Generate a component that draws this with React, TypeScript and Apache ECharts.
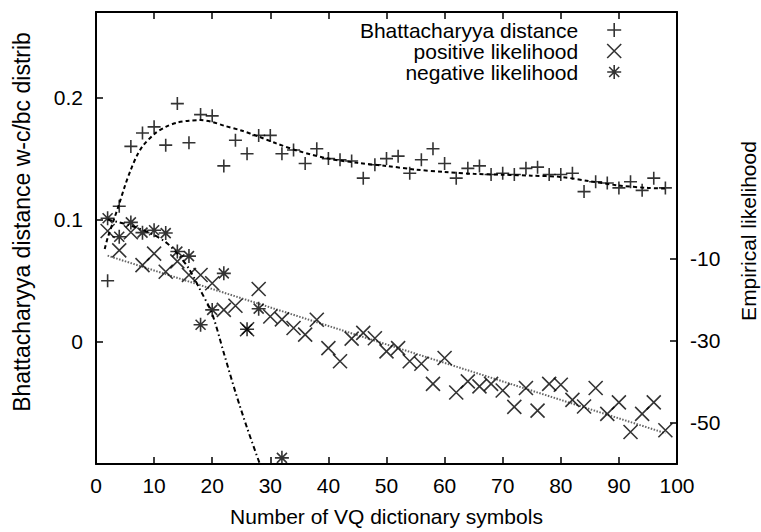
import React, { useEffect, useRef } from 'react';
import * as echarts from 'echarts';

const FONT = '"Liberation Sans", Arial, Helvetica, sans-serif';

// sample x positions (number of VQ dictionary symbols)
const X_VALUES = [2, 4, 6, 8, 10, 12, 14, 16, 18, 20, 22, 24, 26, 28, 30, 32, 34, 36, 38, 40, 42, 44, 46, 48, 50,
  52, 54, 56, 58, 60, 62, 64, 66, 68, 70, 72, 74, 76, 78, 80, 82, 84, 86, 88, 90, 92, 94, 96, 98];

// Bhattacharyya distance (left axis)
const BHATTA = [0.050, 0.111, 0.160, 0.171, 0.176, 0.161, 0.195, 0.163, 0.186, 0.185, 0.144, 0.165, 0.154, 0.169,
  0.169, 0.154, 0.157, 0.146, 0.158, 0.150, 0.149, 0.148, 0.134, 0.145, 0.150, 0.152, 0.138, 0.149, 0.158, 0.146,
  0.134, 0.142, 0.144, 0.137, 0.138, 0.137, 0.142, 0.143, 0.137, 0.137, 0.138, 0.123, 0.131, 0.130, 0.126, 0.131,
  0.124, 0.134, 0.126];

// positive likelihood (right axis)
const POS_LIK = [-3.3, -8.0, -3.6, -11.6, -8.8, -13.2, -10.7, -14.0, -14.0, -16.0, -22.5, -21.5, -27.2, -17.4,
  -24.1, -24.8, -26.9, -28.5, -24.9, -31.8, -35.0, -29.5, -28.1, -29.4, -32.6, -31.8, -35.0, -35.6, -40.5, -34.2,
  -42.6, -39.9, -41.1, -40.5, -42.1, -46.1, -41.5, -47.0, -40.5, -40.7, -44.4, -46.0, -41.5, -47.8, -45.0, -52.2,
  -47.8, -45.0, -51.8];

// negative likelihood (right axis), null = below the visible range
const NEG_X = [2, 4, 6, 8, 10, 12, 14, 16, 18, 20, 22, 24, 26, 28, 30, 32];
const NEG_LIK = [-0.2, -4.7, -1.2, -3.7, -3.1, -3.8, -8.3, -9.4, -26.1, -22.5, -13.6, null, -27.2, -22.2, null, -58.5];

// fitted curves
const BHATTA_FIT_X = [1.5, 2, 3, 4, 5, 6, 7, 8, 10, 12, 14, 16, 18, 20, 22, 25, 28, 31, 35, 40, 45, 50, 55, 60, 65,
  70, 75, 80, 85, 90, 95, 98];
const BHATTA_FIT_Y = [0.076, 0.085, 0.099, 0.113, 0.128, 0.141, 0.152, 0.160, 0.170, 0.176, 0.1795, 0.181, 0.1815,
  0.180, 0.177, 0.173, 0.168, 0.1625, 0.156, 0.150, 0.1465, 0.144, 0.141, 0.139, 0.1375, 0.1368, 0.136, 0.135,
  0.1315, 0.128, 0.126, 0.1255];
const POS_FIT_X = [2, 98];
const POS_FIT_Y = [-9.3, -52.5];
const NEG_FIT_X = [2, 4, 6, 8, 10, 12, 14, 16, 18, 20, 22, 24, 26, 28.2];
const NEG_FIT_Y = [-0.5, -1.2, -2.0, -3.0, -4.3, -6.0, -8.8, -12.5, -17.8, -23.5, -33.0, -42.5, -51.2, -60];

// axis ticks
const LEFT_TICKS = [0, 0.1, 0.2];
const RIGHT_TICKS = [-50, -30, -10];

const SERIES_NAMES = ['Bhattacharyya distance', 'positive likelihood', 'negative likelihood'];

const PLUS = 'path://M7,0L7,14M0,7L14,7';
const CROSS = 'path://M0,0L14,14M0,14L14,0';
const STAR = 'path://M7,0L7,14M0,7L14,7M2,2L12,12M2,12L12,2';

const pairs = (xs: number[], ys: (number | null)[]) =>
  xs.map((x, i) => [x, ys[i]]).filter((p) => p[1] !== null && p[1] !== undefined);

const axisLine = { onZero: false, lineStyle: { color: '#000', width: 2 } };
const tickStyle = { color: '#000', width: 1.5 };
const textBase = { color: '#000', fontSize: 21, fontFamily: FONT };

export default function App() {
  const ref = useRef<HTMLDivElement>(null);

  useEffect(() => {
    if (!ref.current) return;
    const chart = echarts.init(ref.current, null, { renderer: 'svg' });
    const symbolStyle = { color: 'rgba(0,0,0,0)', borderColor: '#000', borderWidth: 1.6 };
    chart.setOption({
      animation: false,
      backgroundColor: '#fff',
      grid: { left: 96, right: 84, top: 12, bottom: 68, containLabel: false, outerBoundsMode: 'none' },
      legend: {
        orient: 'vertical',
        align: 'right',
        right: 134,
        top: 14.5,
        itemWidth: 62,
        itemHeight: 14,
        itemGap: 0,
        selectedMode: false,
        textStyle: { ...textBase, lineHeight: 21 },
        itemStyle: symbolStyle,
        data: [
          { name: SERIES_NAMES[0], icon: PLUS },
          { name: SERIES_NAMES[1], icon: CROSS },
          { name: SERIES_NAMES[2], icon: STAR },
        ],
      },
      xAxis: [
        {
          type: 'value', min: 0, max: 100, interval: 10, position: 'bottom',
          axisLine,
          axisTick: { inside: true, length: 7, lineStyle: tickStyle },
          axisLabel: { ...textBase, margin: 11 },
          splitLine: { show: false },
          name: 'Number of VQ dictionary symbols',
          nameLocation: 'middle',
          nameGap: 42,
          nameTextStyle: textBase,
        },
        {
          type: 'value', min: 0, max: 100, interval: 10, position: 'top',
          axisLine,
          axisTick: { inside: true, length: 7, lineStyle: tickStyle },
          axisLabel: { show: false },
          splitLine: { show: false },
        },
      ],
      yAxis: [
        {
          type: 'value', min: -0.1, max: 0.27, position: 'left',
          axisLine,
          axisTick: { inside: true, length: 7, lineStyle: tickStyle, customValues: LEFT_TICKS },
          axisLabel: { ...textBase, margin: 13, customValues: LEFT_TICKS },
          splitLine: { show: false },
          name: 'Bhattacharyya distance w-c/bc distrib',
          nameLocation: 'middle',
          nameGap: 63,
          nameRotate: 90,
          nameTextStyle: { ...textBase, fontSize: 23, padding: [0, 0, 0, 32] },
        },
        {
          type: 'value', min: -60, max: 50, position: 'right',
          axisLine,
          axisTick: { inside: true, length: 7, lineStyle: tickStyle, customValues: RIGHT_TICKS },
          axisLabel: { ...textBase, margin: 13, customValues: RIGHT_TICKS },
          splitLine: { show: false },
          name: 'Empirical likelihood',
          nameLocation: 'middle',
          nameGap: 61,
          nameRotate: 90,
          nameTextStyle: { ...textBase, padding: [0, 0, 0, 14] },
        },
      ],
      series: [
        {
          name: SERIES_NAMES[0], type: 'scatter', xAxisIndex: 0, yAxisIndex: 0,
          symbol: PLUS, symbolSize: 13, itemStyle: symbolStyle,
          data: pairs(X_VALUES, BHATTA), z: 3,
        },
        {
          name: SERIES_NAMES[1], type: 'scatter', xAxisIndex: 0, yAxisIndex: 1,
          symbol: CROSS, symbolSize: 14, itemStyle: symbolStyle,
          data: pairs(X_VALUES, POS_LIK), z: 3,
        },
        {
          name: SERIES_NAMES[2], type: 'scatter', xAxisIndex: 0, yAxisIndex: 1,
          symbol: STAR, symbolSize: 14, itemStyle: symbolStyle,
          data: pairs(NEG_X, NEG_LIK), z: 3,
        },
        {
          type: 'line', xAxisIndex: 0, yAxisIndex: 0, silent: true, symbol: 'none', smooth: 0.3,
          lineStyle: { color: '#000', width: 2, type: [4, 3] },
          data: pairs(BHATTA_FIT_X, BHATTA_FIT_Y), z: 2,
        },
        {
          type: 'line', xAxisIndex: 0, yAxisIndex: 1, silent: true, symbol: 'none',
          lineStyle: { color: '#666', width: 2, type: [1.5, 1.5] },
          data: pairs(POS_FIT_X, POS_FIT_Y), z: 2,
        },
        {
          type: 'line', xAxisIndex: 0, yAxisIndex: 1, silent: true, symbol: 'none', smooth: 0.3,
          lineStyle: { color: '#000', width: 2, type: [5, 3, 1.5, 3] },
          data: pairs(NEG_FIT_X, NEG_FIT_Y), z: 2,
        },
      ],
    });
    return () => chart.dispose();
  }, []);

  return (
    <div
      ref={ref}
      style={{ position: 'fixed', left: 0, top: 0, width: 761, height: 532, background: '#fff' }}
    />
  );
}
